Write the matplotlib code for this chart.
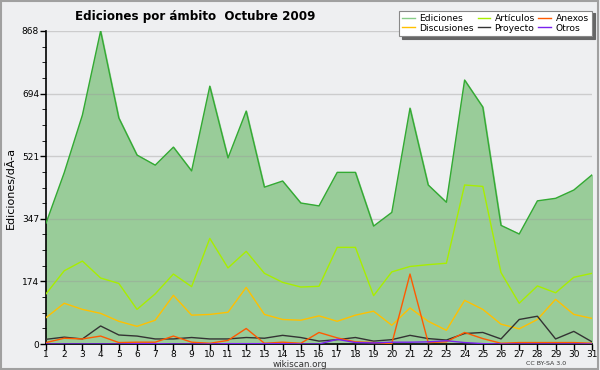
import numpy as np
import matplotlib
matplotlib.use('Agg')
import matplotlib.pyplot as plt
from matplotlib.patches import Rectangle

# Ediciones por ambito, octubre 2009
days = list(range(1, 32))
ediciones = [335, 475, 635, 868, 627, 524, 496, 546, 480, 715, 516, 646, 435, 452, 391,
             383, 476, 476, 327, 365, 654, 441, 393, 732, 657, 329, 305, 397, 404, 427, 469]
articulos = [139, 203, 230, 183, 168, 96, 139, 194, 159, 293, 211, 257, 196, 171, 158,
             160, 268, 268, 134, 200, 215, 220, 224, 441, 437, 198, 113, 161, 142, 185, 196]
discusiones = [73, 113, 96, 85, 63, 49, 66, 135, 80, 82, 88, 157, 82, 68, 66,
               78, 63, 80, 91, 52, 100, 63, 38, 121, 96, 55, 42, 68, 124, 82, 71]
proyecto = [13, 19, 14, 50, 25, 22, 14, 14, 18, 14, 14, 18, 16, 24, 18,
            8, 12, 18, 8, 12, 24, 15, 11, 29, 32, 14, 68, 77, 14, 35, 6]
anexos = [4, 16, 14, 22, 4, 5, 5, 22, 5, 2, 10, 43, 2, 5, 2,
          32, 17, 6, 4, 1, 194, 4, 6, 32, 15, 2, 4, 4, 4, 4, 2]
otros = [0, 0, 0, 0, 0, 1, 1, 0, 0, 0, 1, 1, 1, 1, 0,
         0, 13, 4, 3, 5, 5, 6, 9, 4, 1, 0, 0, 0, 0, 0, 0]

yticks = [0, 174, 347, 521, 694, 868]
ymax = 868

bg = '#eeeff1'
fig = plt.figure(figsize=(6, 3.7), dpi=100, facecolor=bg)
fig.patches.append(Rectangle((0.002, 0.003), 0.995, 0.994, transform=fig.transFigure,
                             fill=False, edgecolor='#a0a0a0', linewidth=1.5))

ax = fig.add_axes([46 / 600, 1 - 344 / 370, 546 / 600, 313 / 370])
ax.set_facecolor(bg)

ax.fill_between(days, ediciones, 0, color='#99cc99', zorder=1)
ax.plot(days, ediciones, color='#33aa33', lw=1, zorder=3, label='Ediciones')
ax.plot(days, discusiones, color='#ffc000', lw=1, zorder=3, label='Discusiones')
ax.plot(days, articulos, color='#a8ee00', lw=1, zorder=3, label='Artículos')
ax.plot(days, proyecto, color='#333333', lw=1, zorder=3, label='Proyecto')
ax.plot(days, anexos, color='#ff5a00', lw=1, zorder=3, label='Anexos')
ax.plot(days, otros, color='#7a22ee', lw=1, zorder=3, label='Otros')

ax.set_xlim(1, 31)
ax.set_ylim(0, ymax)
ax.set_xticks(days)
ax.set_yticks(yticks)
ax.set_yticks(np.linspace(0, ymax, 21), minor=True)
ax.tick_params(axis='both', labelsize=6.5, length=4, width=1, direction='out', pad=1)
ax.tick_params(axis='y', which='minor', length=3)
ax.tick_params(axis='x', labelsize=6.5, pad=0.5)
ax.grid(axis='y', which='major', color='#999999', alpha=0.4, lw=1, zorder=2)
ax.set_axisbelow(False)
for s in ['top', 'right']:
    ax.spines[s].set_visible(False)
ax.spines['left'].set_linewidth(1.2)
ax.spines['bottom'].set_linewidth(1.2)

ax.set_ylabel('Ediciones/dÃ-a', fontsize=8, labelpad=4)

fig.text(0.325, 0.955, 'Ediciones por ámbito  Octubre 2009', ha='center', va='center',
         fontsize=8.6, fontweight='bold')
fig.text(0.5, 0.016, 'wikiscan.org', ha='center', va='center', fontsize=6.3, color='#333333')
fig.text(0.943, 0.018, 'CC BY-SA 3.0', ha='right', va='center', fontsize=4.5, color='#333333')

leg = ax.legend(ncol=3, loc='upper right', bbox_to_anchor=(1.008, 1.08), fontsize=6.6,
                frameon=True, fancybox=False, shadow={'color': '#666666', 'alpha': 1},
                handlelength=1.4, handletextpad=0.45, columnspacing=0.4,
                labelspacing=0.1, borderpad=0.35, edgecolor='#888888')
leg.get_frame().set_facecolor('white')
leg.get_frame().set_linewidth(0.8)
leg.set_zorder(10)
for h in leg.legend_handles:
    h.set_linewidth(1)
leg.legend_handles[0].set_color('#88cc88')

fig.savefig('out.png', dpi=100, facecolor=bg)
